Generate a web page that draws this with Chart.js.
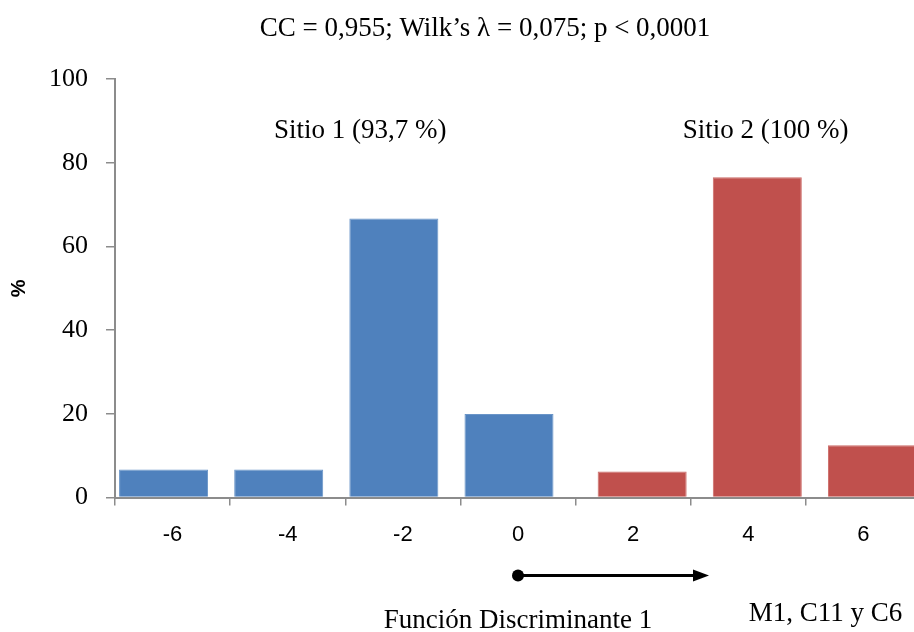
<!DOCTYPE html>
<html>
<head>
<meta charset="utf-8">
<script src="https://cdn.jsdelivr.net/npm/chart.js@4.4.1/dist/chart.umd.min.js"></script>
<style>
  html, body { margin: 0; padding: 0; background: #ffffff; overflow: hidden; }
  #wrap { position: relative; width: 970px; height: 632px; }
</style>
</head>
<body>
<div id="wrap"><canvas id="chart"></canvas></div>
<script>
// Discriminant function scores (bin centres) and percentage of samples per bin
const categories = ['-6', '-4', '-2', '0', '2', '4', '6'];
const sitio1Values = [6.7, 6.7, 66.7, 20, null, null, null];
const sitio2Values = [null, null, null, null, 6.25, 76.5, 12.5];
const yTicks = [0, 20, 40, 60, 80, 100];

const titleText = 'CC = 0,955; Wilk\u2019s \u03bb = 0,075; p < 0,0001';
const groupLabels = ['Sitio 1 (93,7 %)', 'Sitio 2 (100 %)'];
const axisCaption = 'Funci\u00f3n Discriminante 1';
const variablesCaption = 'M1, C11 y C6';

const serif = "'Liberation Serif', 'Times New Roman', serif";
const sans = "'Liberation Sans', Arial, sans-serif";
const axisGray = '#8c8c8c';

// Heading, group labels and the direction arrow under the x axis
const notesPlugin = {
  id: 'notes',
  afterDraw(chart) {
    const { ctx, chartArea, scales } = chart;
    const x = scales.x, y = scales.y;
    ctx.save();
    ctx.fillStyle = '#000';
    ctx.font = '27px ' + serif;
    ctx.textAlign = 'center';
    ctx.textBaseline = 'middle';
    ctx.fillText(titleText, 485, 29);

    ctx.fillText(groupLabels[0], x.getPixelForValue(1.63), y.getPixelForValue(87.5));
    ctx.fillText(groupLabels[1], x.getPixelForValue(5.15), y.getPixelForValue(87.5));

    const ay = chartArea.bottom + 78;
    const ax0 = x.getPixelForValue(3);
    const ax1 = ax0 + 191;
    ctx.strokeStyle = '#000';
    ctx.lineWidth = 3;
    ctx.beginPath();
    ctx.moveTo(ax0, ay);
    ctx.lineTo(ax1 - 10, ay);
    ctx.stroke();
    ctx.beginPath();
    ctx.moveTo(ax1, ay);
    ctx.lineTo(ax1 - 16, ay - 6);
    ctx.lineTo(ax1 - 16, ay + 6);
    ctx.closePath();
    ctx.fill();
    ctx.beginPath();
    ctx.arc(ax0, ay, 6, 0, Math.PI * 2);
    ctx.fill();

    ctx.fillText(axisCaption, ax0, chartArea.bottom + 123);
    ctx.fillText(variablesCaption, x.getPixelForValue(5.67), chartArea.bottom + 116);
    ctx.restore();
  }
};

new Chart(document.getElementById('chart'), {
  type: 'bar',
  data: {
    labels: categories,
    datasets: [
      {
        label: 'Sitio 1',
        data: sitio1Values,
        backgroundColor: '#4f81bd',
        borderColor: '#6a95c8',
        borderWidth: 1
      },
      {
        label: 'Sitio 2',
        data: sitio2Values,
        backgroundColor: '#c0504d',
        borderColor: '#cc6b68',
        borderWidth: 1
      }
    ]
  },
  options: {
    responsive: true,
    maintainAspectRatio: false,
    animation: false,
    categoryPercentage: 0.313,
    barPercentage: 4.94,
    layout: { padding: { left: 0, right: 49, top: 79, bottom: 68 } },
    plugins: {
      legend: { display: false },
      tooltip: { enabled: false },
      title: { display: false }
    },
    scales: {
      x: {
        offset: true,
        grid: {
          offset: true,
          drawOnChartArea: false,
          drawTicks: true,
          tickLength: 8,
          color: axisGray,
          lineWidth: 1.5
        },
        border: { display: true, color: axisGray, width: 2 },
        ticks: {
          color: '#000',
          font: { family: sans, size: 22 },
          padding: 16,
          maxRotation: 0,
          autoSkip: false
        }
      },
      y: {
        min: 0,
        max: 100,
        afterBuildTicks(scale) { scale.ticks = yTicks.map(v => ({ value: v })); },
        grid: {
          drawOnChartArea: false,
          drawTicks: true,
          tickLength: 9,
          color: axisGray,
          lineWidth: 1.5
        },
        border: { display: true, color: axisGray, width: 2 },
        ticks: {
          color: '#000',
          font: { family: serif, size: 26 },
          padding: 18
        },
        title: {
          display: true,
          text: '%',
          color: '#000',
          font: { family: sans, size: 20, weight: 'bold' },
          padding: { top: 7, bottom: 0 }
        }
      }
    }
  },
  plugins: [notesPlugin]
});
</script>
</body>
</html>
